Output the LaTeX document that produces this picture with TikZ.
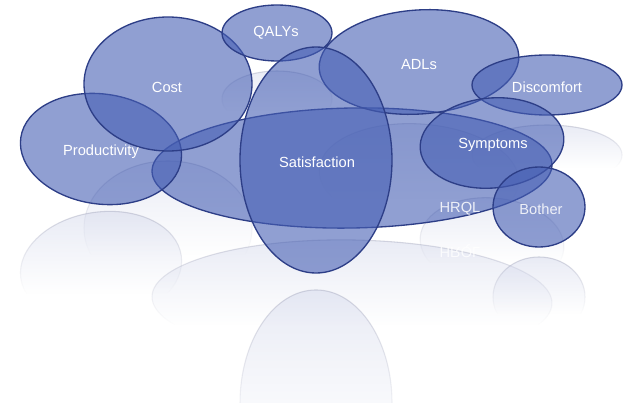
\documentclass[tikz,border=0pt]{standalone}
\usepackage{fontspec}
\setmainfont{Liberation Sans}
\usepackage{graphicx}
\usetikzlibrary{fadings}

\definecolor{blobfill}{RGB}{70,95,180}
\definecolor{blobline}{RGB}{45,62,135}
\definecolor{reflfill}{RGB}{208,213,234}
\definecolor{reflline}{RGB}{165,168,190}

% floor reflections fade out over the upper part
\pgfdeclareverticalshading{reflshade}{100bp}{color(0bp)=(black); color(40bp)=(black); color(100bp)=(white!80!black)}
\pgfdeclarefading{reflfade}{\pgfuseshading{reflshade}}

\begin{document}
\begin{tikzpicture}[x=0.75pt, y=-0.75pt,
    blob/.style={fill=blobfill, fill opacity=0.6, draw=blobline, line width=1pt},
    refl/.style={fill=reflfill, draw=reflline, line width=0.8pt, path fading=reflfade},
    lbl/.style={text=white, font=\fontsize{11}{13}\selectfont, inner sep=0pt},
]
\useasboundingbox[fill=white] (0,0) rectangle (629,403);
% reflections
\path[refl] (277,99) ellipse [x radius=55, y radius=28];
\path[refl] (168,228) ellipse [x radius=84, y radius=67];
\path[refl] (101,267) ellipse [x radius=81, y radius=55, rotate=8];
\path[refl] (352,300) ellipse [x radius=200, y radius=60, rotate=-1];
\path[refl] (316,403) ellipse [x radius=76, y radius=113];
\path[refl] (419,176) ellipse [x radius=100, y radius=52, rotate=-4];
\path[refl] (547,155) ellipse [x radius=75, y radius=30];
\path[refl] (492,243) ellipse [x radius=72, y radius=45, rotate=-5];
\path[refl] (539,297) ellipse [x radius=46, y radius=40];
\node[lbl, opacity=0.8] (hrqlrefl) at (460,251) {\scalebox{1}[-1]{HRQL}};
% ellipses
\path[blob] (352,168) ellipse [x radius=200, y radius=60, rotate=1];
\path[blob] (101,149) ellipse [x radius=81, y radius=55, rotate=-8];
\path[blob] (168,84) ellipse [x radius=84, y radius=67];
\path[blob] (277,33) ellipse [x radius=55, y radius=28];
\path[blob] (419,62) ellipse [x radius=100, y radius=52, rotate=4];
\path[blob] (547,85) ellipse [x radius=75, y radius=30];
\path[blob] (492,143) ellipse [x radius=72, y radius=45, rotate=5];
\path[blob] (539,207) ellipse [x radius=46, y radius=40];
\path[blob] (316,160) ellipse [x radius=76, y radius=113];
% labels
\node[lbl] (qalys) at (276,33) {QALYs};
\node[lbl] (cost) at (167,87) {Cost};
\node[lbl] (adls) at (419,65) {ADLs};
\node[lbl] (discomfort) at (547,87) {Discomfort};
\node[lbl] (productivity) at (101,152) {Productivity};
\node[lbl] (satisfaction) at (317,162) {Satisfaction};
\node[lbl] (symptoms) at (493,145) {Symptoms};
\node[lbl, opacity=0.85] (hrql) at (460,209) {HRQL};
\node[lbl, opacity=0.85] (bother) at (541,209) {Bother};
\end{tikzpicture}
\end{document}
